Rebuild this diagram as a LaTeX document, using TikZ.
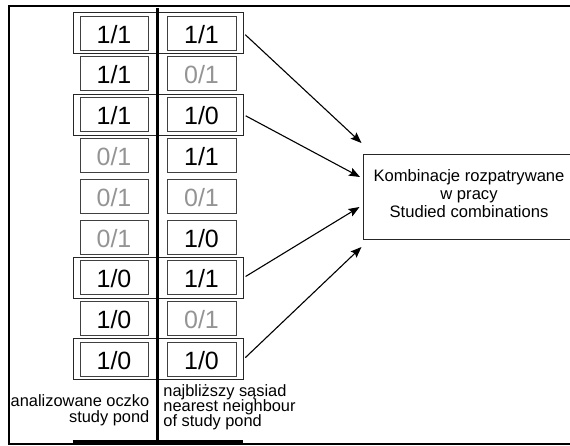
\documentclass[tikz,border=0pt]{standalone}
\usepackage{fontspec}
\setmainfont{Liberation Sans}
\usetikzlibrary{arrows.meta}
\begin{document}
\begin{tikzpicture}[x=1pt,y=-1pt,
  cell/.style={draw=black!75, line width=0.8pt, minimum width=68pt, minimum height=34pt,
    inner sep=0pt, text height=20pt, text depth=0pt, font=\fontsize{25}{30}\selectfont},
  dim/.style={text=black!42},
  pairframe/.style={draw=black!85, line width=0.9pt, minimum width=170pt, minimum height=41pt, inner sep=0pt},
  lbl/.style={inner sep=0pt, font=\fontsize{16.4}{17}\selectfont},
  boxtxt/.style={inner sep=0pt, font=\fontsize{16.6}{18}\selectfont},
  arr/.style={line width=1.1pt, -{Stealth[length=11pt,width=8.5pt,inset=2pt]}, shorten <=2.5pt}
]
\useasboundingbox (0,0) rectangle (570,445);
\clip (0,0) rectangle (570,445);
% outer page frame
\draw[line width=1.8pt] (575,5.8) -- (9.2,5.8) -- (9.2,443.6) -- (575,443.6);
% pair frames
\foreach \i/\yy in {1/33,3/114.6,7/277.8,9/359.4}
  \node[pairframe] (f\i) at (158,\yy) {};
% cells
\foreach \i/\yy/\a/\sa/\b/\sb in {
  1/33/1\slash 1//1\slash 1/,
  2/73.8/1\slash 1//0\slash 1/dim,
  3/114.6/1\slash 1//1\slash 0/,
  4/155.4/0\slash 1/dim/1\slash 1/,
  5/196.2/0\slash 1/dim/0\slash 1/dim,
  6/237/0\slash 1/dim/1\slash 0/,
  7/277.8/1\slash 0//1\slash 1/,
  8/318.6/1\slash 0//0\slash 1/dim,
  9/359.4/1\slash 0//1\slash 0/}
{
  \node[cell,\sa] (l\i) at (114,\yy) {\a};
  \node[cell,minimum width=69pt,\sb] (r\i) at (201.5,\yy) {\b};
}
% central divider and base bar
\coordinate (vtop) at (157.6,8.2);
\coordinate (vbot) at (157.6,440.5);
\draw[line width=2.4pt] (vtop) -- (vbot);
\coordinate (bl) at (72.7,441);
\coordinate (br) at (242.7,441);
\draw[line width=3pt] (bl) -- (br);
% column labels
\node[lbl, anchor=base east] (la1) at (149.5,406.3) {analizowane oczko};
\node[lbl, anchor=base east] (la2) at (149.5,422.8) {study pond};
\node[lbl, anchor=base west] (ra1) at (163.2,396.7) {najbliższy sąsiad};
\node[lbl, anchor=base west] (ra2) at (163.2,411.7) {nearest neighbour};
\node[lbl, anchor=base west] (ra3) at (163.2,426.7) {of study pond};
% result box
\node[draw=black!85, line width=1pt, minimum width=212pt, minimum height=85pt, inner sep=0pt] (res) at (469,196.5) {};
\node[boxtxt, anchor=base] (rt1) at (469,181.8) {Kombinacje rozpatrywane};
\node[boxtxt, anchor=base] (rt2) at (469,199.8) {w pracy};
\node[boxtxt, anchor=base] (rt3) at (469,217.8) {Studied combinations};
% arrow targets
\coordinate (t1) at (361.5,143);
\coordinate (t3) at (360,177);
\coordinate (t7) at (359.5,207);
\coordinate (t9) at (361.5,247);
\draw[arr] (f1.east) -- (t1);
\draw[arr] (f3.east) -- (t3);
\draw[arr] (f7.east) -- (t7);
\draw[arr] (f9.east) -- (t9);
\end{tikzpicture}
\end{document}
